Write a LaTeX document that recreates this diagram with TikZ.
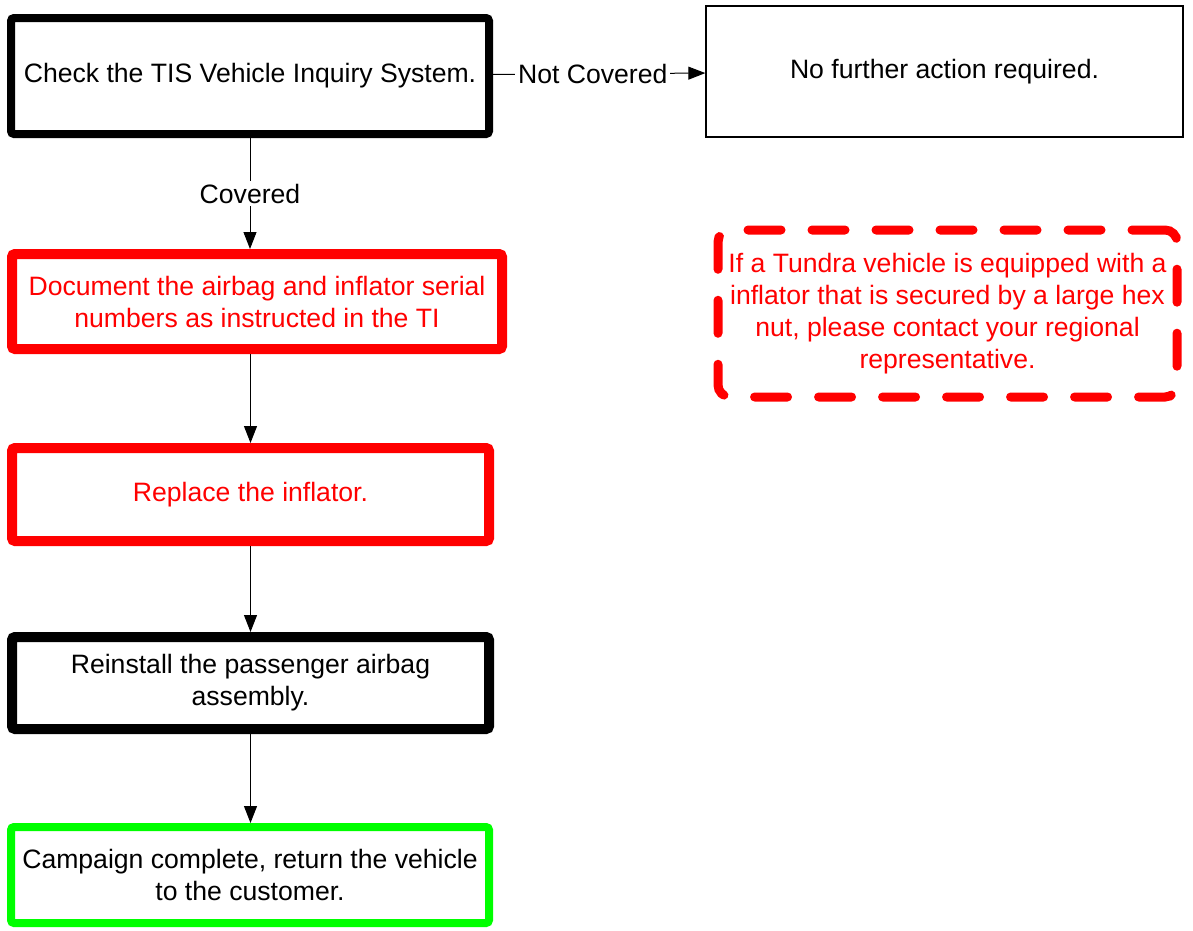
\documentclass[tikz,border=0pt]{standalone}
\usepackage{fontspec}
\setmainfont{Liberation Sans}
\usetikzlibrary{arrows.meta}
\definecolor{vred}{RGB}{255,0,0}
\definecolor{vgreen}{RGB}{0,255,0}
\tikzset{
    every node/.style={font=\fontsize{26.6pt}{32pt}\selectfont, align=center,
    	inner sep=0pt}
}
\tikzset{
    stepbox/.style={draw, rectangle, rounded corners=3pt, line width=8pt},
    redbox/.style={stepbox, draw=vred, text=vred, line width=10pt},
    greenbox/.style={stepbox, draw=vgreen},
    plainbox/.style={draw, rectangle, line width=1.4pt},
    notebox/.style={draw=vred, text=vred, rectangle, rounded corners=12pt,
    	line width=9pt, line cap=round, dash pattern=on 33pt off 31pt},
    flow/.style={-{Triangle[length=17pt,width=13pt]}, line width=1pt},
    lbl/.style={fill=white, inner sep=3pt}
}

\begin{document}
\begin{tikzpicture}[x=1pt, y=-1pt]
	\useasboundingbox (0,0) rectangle (1193,930);
	\node (check) [stepbox, minimum width=478pt, minimum height=116pt] at (250, 76)
		{Check the TIS Vehicle Inquiry System.};
	\node (none) [plainbox, minimum width=477pt, minimum height=131pt] at (944.5, 71.5)
		{No further action required.};
	\node (document) [redbox, minimum width=490pt, minimum height=95pt] at (257, 301.5)
		{Document the airbag and inflator serial\\numbers as instructed in the TI};
	\node (replace) [redbox, minimum width=477pt, minimum height=93pt] at (250.5, 494.5)
		{Replace the inflator.};
	\node (reinstall) [stepbox, line width=10pt, minimum width=477pt, minimum height=92pt] at (250.5, 683)
		{Reinstall the passenger airbag\\assembly.};
	\node (done) [greenbox, minimum width=478pt, minimum height=96pt] at (250, 875)
		{Campaign complete, return the vehicle\\to the customer.};
	\node (note) [notebox, minimum width=459pt, minimum height=167pt] at (947.5, 313.5)
		{If a Tundra vehicle is equipped with a\\inflator that is secured by a large hex\\nut, please contact your regional\\representative.};

	\draw [flow] (check) -- node [lbl, pos=0.47] {Not Covered} (none);
	\draw [flow] (check.south) -- node [lbl] {Covered} (check.south |- document.north);
	\draw [flow] (replace.north |- document.south) -- (replace.north);
	\draw [flow] (replace.south) -- (reinstall.north);
	\draw [flow] (reinstall.south) -- (reinstall.south |- done.north);
\end{tikzpicture}
\end{document}
